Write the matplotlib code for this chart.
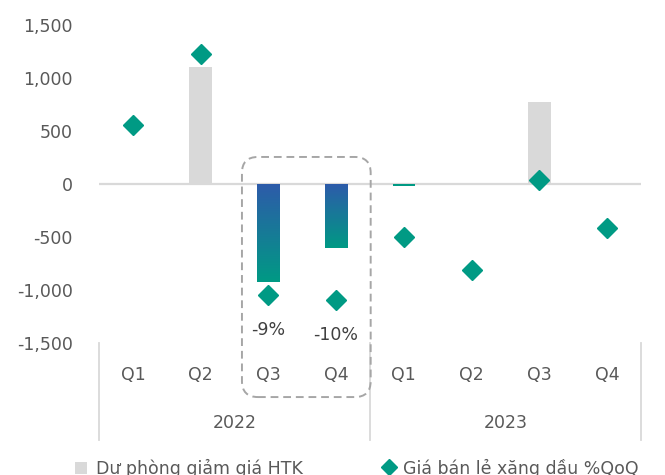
import numpy as np
import matplotlib
matplotlib.use("Agg")
import matplotlib.pyplot as plt
from matplotlib.patches import FancyBboxPatch, Rectangle
from matplotlib.lines import Line2D
from matplotlib.colors import LinearSegmentedColormap
import matplotlib.transforms as mtrans

# ---- data ----
quarters = ["Q1", "Q2", "Q3", "Q4", "Q1", "Q2", "Q3", "Q4"]
years = ["2022", "2023"]
provision = [3, 1100, -920, -600, -15, 10, 770, 0]          # Dự phòng giảm giá HTK
fuel_qoq = [12.4, 21.3, -9.0, -9.6, -1.7, -5.8, 5.5, -0.5]  # Giá bán lẻ xăng dầu %QoQ
left_ticks = [-1500, -1000, -500, 0, 500, 1000, 1500]
right_ticks = [-15, -10, -5, 0, 5, 10, 15, 20, 25]
highlight_labels = {2: "-9%", 3: "-10%"}
legend_labels = ["Dư phòng giảm giá HTK", "Giá bán lẻ xăng dầu %QoQ"]

plt.rcParams["font.family"] = ["DejaVu Sans"]
FS = 12.5
TXT = "#595959"
GRAY = "#D9D9D9"
TEAL = "#009A84"
BLUE = "#2D5BAA"
W, H = 665, 475

fig = plt.figure(figsize=(W / 100, H / 100), dpi=100)
ax = fig.add_axes([99 / W, 1 - 343 / H, 542 / W, 318 / H])
ax2 = ax.twinx()

x = np.arange(len(quarters))

cmap = LinearSegmentedColormap.from_list("g", [BLUE, TEAL])
bars = ax.bar(x, provision, width=0.33, color=GRAY, zorder=2)
for b, v in zip(bars, provision):
    if v < 0:
        if abs(v) < 50:
            b.set_facecolor(TEAL)
            continue
        b.set_facecolor("none")
        x0, w = b.get_x(), b.get_width()
        grad = np.linspace(0, 1, 256).reshape(-1, 1)
        im = ax.imshow(grad, cmap=cmap, aspect="auto",
                       extent=[x0, x0 + w, v, 0], origin="upper", zorder=2)
        im.set_clip_path(b)
ax.set_xlim(-0.5, len(quarters) - 0.5)
ax.set_ylim(-1500, 1500)
ax2.set_ylim(-15, 25)

ax.axhline(0, color=GRAY, lw=1.6, zorder=1)

ax2.plot(x, fuel_qoq, linestyle="none", marker="D", ms=10, color=TEAL, zorder=3)
for i, s in highlight_labels.items():
    ax2.annotate(s, (x[i], fuel_qoq[i]), xytext=(0, -25), textcoords="offset points",
                 ha="center", va="center", fontsize=FS, color="#404040")

for a in (ax, ax2):
    for sp in a.spines.values():
        sp.set_visible(False)
ax.set_xticks([])
ax.set_yticks(left_ticks)
ax.set_yticklabels([f"{v:,}" for v in left_ticks])
ax.tick_params(axis="y", length=0, pad=19, labelsize=FS, labelcolor=TXT)
ax2.set_yticks(right_ticks)
ax2.set_yticklabels([f"{v}%" for v in right_ticks])
ax2.tick_params(axis="y", length=0, pad=18.3, labelsize=FS, labelcolor=TXT)

# category axis (multi-level)
trans = mtrans.blended_transform_factory(ax.transData, ax.transAxes)
for i, q in enumerate(quarters):
    ax.text(x[i], -0.10, q, transform=trans, ha="center", va="center",
            fontsize=FS, color=TXT)
for j, yr in enumerate(years):
    ax.text(j * 4 + 1.5, -0.25, yr, transform=trans, ha="center", va="center",
            fontsize=FS, color=TXT)
for xs in (-0.5, 3.5, 7.5):
    ax.plot([xs, xs], [0, -0.305], transform=trans, color=GRAY, lw=1.3, clip_on=False)

# dashed rounded highlight box
p0 = trans.transform((1.61, -0.17))
p1 = ax.transData.transform((3.51, 255))
box = FancyBboxPatch((p0[0], p0[1]), p1[0] - p0[0], p1[1] - p0[1],
                     boxstyle="round,pad=0,rounding_size=16", transform=None,
                     fill=False, edgecolor="#A6A6A6", lw=1.4, linestyle=(0, (4, 2.5)))
fig.patches.append(box)

# legend (manual, bottom)
fig.patches.append(Rectangle((75 / W, 1 - 474 / H), 12 / W, 12 / H,
                             transform=fig.transFigure, facecolor=GRAY, edgecolor="none"))
fig.text(96 / W, 1 - 474 / H, legend_labels[0], fontsize=FS, color=TXT,
         ha="left", va="baseline")
fig.add_artist(Line2D([389 / W], [1 - 466.5 / H], transform=fig.transFigure,
                      linestyle="none", marker="D", ms=8, color=TEAL))
fig.text(403 / W, 1 - 474 / H, legend_labels[1], fontsize=FS, color=TXT,
         ha="left", va="baseline")

fig.savefig("out.png", dpi=100)
